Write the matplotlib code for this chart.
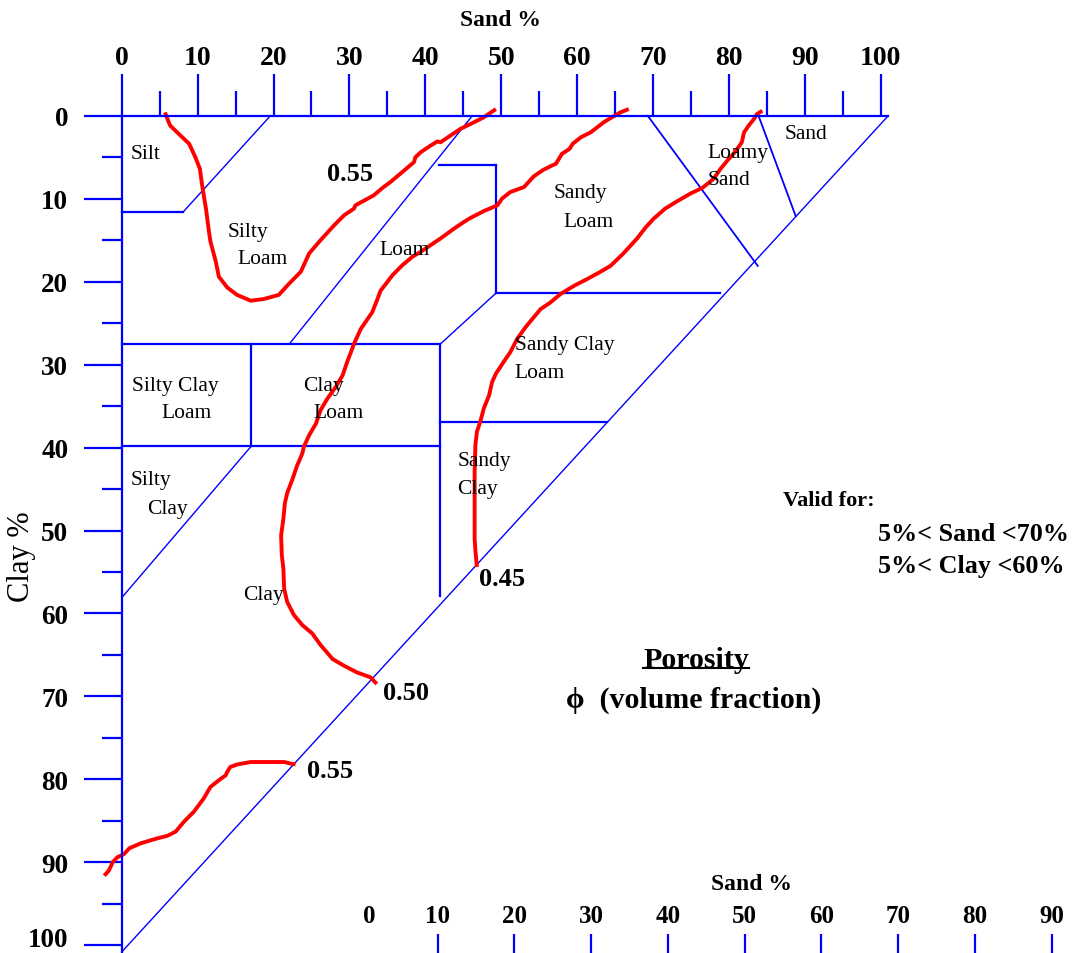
import matplotlib
matplotlib.use("Agg")
from matplotlib import pyplot as plt
from matplotlib.lines import Line2D
from matplotlib.transforms import IdentityTransform, ScaledTranslation

plt.rcParams['font.family'] = ['Liberation Serif', 'DejaVu Serif']

BLUE = '#0000ff'
RED = '#ff0000'

# axis ticks
sand_ticks = [0, 10, 20, 30, 40, 50, 60, 70, 80, 90, 100]
sand_minor = [5, 15, 25, 35, 45, 55, 65, 75, 85, 95]
clay_ticks = [0, 10, 20, 30, 40, 50, 60, 70, 80, 90, 100]
clay_minor = [5, 15, 25, 35, 45, 55, 65, 75, 85, 95]
bottom_ticks = [0, 10, 20, 30, 40, 50, 60, 70, 80, 90]

# porosity isolines (sand %, clay %)
sand_055_top = [5.7, 6.2, 6.4, 7.3, 8.9, 9.7, 10.3, 10.6, 11.1, 11.5,
                11.7, 12.4, 12.8, 13.9, 15.2, 17.0, 18.7, 20.7, 22.0, 23.6,
                24.2, 24.7, 26.2, 28.0, 29.3, 30.6, 30.8, 32.4, 33.2, 34.5,
                35.4, 36.7, 38.5, 38.7, 39.4, 40.7, 41.6, 42.0, 43.3, 44.6,
                46.4, 47.7, 49.3]
clay_055_top = [-0.4, 0.8, 1.2, 2.0, 3.4, 5.0, 6.4, 8.4, 11.2, 14.0,
                15.2, 17.6, 19.4, 20.7, 21.6, 22.3, 22.1, 21.6, 20.3, 18.8,
                17.6, 16.6, 15.0, 13.2, 12.0, 11.2, 10.8, 10.0, 9.6, 8.6,
                8.0, 7.0, 5.6, 5.0, 4.4, 3.6, 3.1, 3.2, 2.4, 1.6,
                0.8, 0.2, -0.8]

sand_050 = [66.8, 65.7, 64.2, 63.5, 61.8, 60.5, 59.4, 59.0, 58.0, 57.2,
            56.7, 55.6, 54.3, 53.0, 51.2, 50.1, 49.5, 47.7, 46.0, 45.1,
            43.8, 42.0, 40.7, 39.4, 38.3, 37.0, 35.7, 34.1, 33.7, 33.0,
            31.5, 31.0, 30.6, 30.2, 29.7, 29.1, 28.2, 27.1, 26.2, 25.6,
            24.7, 24.0, 23.8, 23.1, 22.5, 21.8, 21.5, 21.3, 21.0, 21.1,
            21.3, 21.4, 21.8, 22.7, 23.8, 25.1, 26.2, 27.8, 29.3, 31.0,
            32.8, 33.6]
clay_050 = [-0.8, -0.4, 0.4, 0.8, 2.0, 2.6, 3.4, 4.0, 4.6, 5.8,
            6.0, 6.5, 7.3, 8.6, 9.2, 10.0, 10.8, 11.5, 12.3, 12.8,
            13.6, 14.8, 15.6, 16.4, 17.0, 18.0, 19.2, 21.1, 22.1, 23.7,
            25.7, 26.7, 27.5, 28.5, 29.7, 31.3, 32.7, 34.1, 35.5, 37.1,
            38.5, 39.9, 40.7, 42.2, 43.8, 45.5, 46.7, 48.6, 50.6, 53.0,
            54.6, 57.0, 58.6, 60.2, 61.4, 62.4, 63.8, 65.5, 66.3, 67.1,
            67.7, 68.5]

sand_045 = [84.4, 83.7, 83.3, 82.6, 82.0, 81.7, 81.1, 80.6, 79.8, 78.9,
            78.0, 76.5, 74.9, 73.2, 71.6, 70.1, 69.0, 67.9, 66.1, 64.4,
            63.1, 61.3, 59.6, 57.8, 56.5, 55.2, 54.1, 53.2, 52.1, 51.2,
            50.3, 49.3, 48.8, 48.4, 47.7, 47.3, 46.8, 46.6, 46.5, 46.5,
            46.5, 46.6, 46.8]
clay_045 = [-0.6, -0.2, 0.4, 1.2, 2.0, 3.2, 4.0, 4.6, 5.4, 6.4,
            7.6, 8.7, 9.4, 10.3, 11.2, 12.4, 13.5, 14.8, 16.6, 18.1,
            18.8, 19.7, 20.5, 21.5, 22.5, 23.3, 24.5, 25.5, 26.9, 28.5,
            29.7, 31.1, 32.1, 33.7, 35.3, 36.7, 38.1, 39.7, 42.9, 47.0,
            51.0, 52.4, 54.4]

sand_055_low = [-2.3, -1.7, -1.2, -0.6, 0.3, 1.0, 2.5, 4.7, 6.0, 7.1,
                8.2, 9.5, 10.8, 11.7, 12.8, 13.7, 13.9, 14.3, 15.2, 17.0,
                18.7, 21.4, 22.3, 22.9]
clay_055_low = [91.6, 91.0, 90.0, 89.4, 89.0, 88.3, 87.7, 87.1, 86.8, 86.3,
                85.1, 83.9, 82.3, 80.9, 80.1, 79.5, 79.1, 78.5, 78.2, 77.9,
                77.9, 77.9, 78.1, 78.2]

# texture class boundaries: (sand %, clay %) of the end points
square_edges = [
    ([0, 8.1], [11.6, 11.6]),
    ([0, 42.0], [27.5, 27.5]),
    ([0, 41.9], [39.8, 39.8]),
    ([17.1, 17.1], [27.5, 39.8]),
    ([41.9, 41.9], [27.5, 57.9]),
    ([41.9, 64.0], [36.9, 36.9]),
    ([41.8, 49.3], [6.0, 6.0]),
    ([49.3, 49.3], [6.0, 21.4]),
    ([49.3, 78.8], [21.4, 21.4]),
]
slanted_edges = [
    ([8.1, 19.6], [11.6, 0]),
    ([46.2, 22.1], [0, 27.5]),
    ([42.0, 49.3], [27.5, 21.4]),
    ([17.1, 0], [39.8, 58.1]),
    ([0, 101], [100.8, 0]),
]
sandy_edges = [
    ([69.3, 83.8], [0, 18.1]),
    ([83.9, 88.8], [0, 12.1]),
]

classes = ["Silt", "Silty", "Loam", "Loam", "Sandy", "Loam", "Loamy", "Sand",
           "Sand", "Sandy Clay", "Loam", "Silty Clay", "Loam", "Clay", "Loam",
           "Sandy", "Clay", "Silty", "Clay", "Clay"]
class_sand = [1.2, 14.0, 15.3, 33.9, 56.9, 58.2, 77.2, 77.2,
              87.3, 51.8, 51.8, 1.3, 5.3, 23.9, 25.2,
              44.2, 44.2, 1.2, 3.3, 16.0]
class_clay = [4.5, 13.9, 17.2, 16.1, 9.2, 12.7, 4.4, 7.7,
              2.2, 27.6, 30.9, 32.5, 35.8, 32.5, 35.8,
              41.5, 44.9, 43.9, 47.3, 57.7]

iso_labels = ["0.55", "0.45", "0.50", "0.55"]
iso_sand = [27.1, 47.1, 34.4, 24.4]
iso_clay = [7.0, 55.8, 69.5, 78.9]


def nudge(label, fig, dx_px, dy_px):
    # move a tick label by a few pixels
    label.set_transform(label.get_transform() +
                        ScaledTranslation(dx_px / 100, dy_px / 100, fig.dpi_scale_trans))


def draw_graph():
    fig = plt.figure(figsize=(10.77, 9.54), dpi=100)
    W, H = 1077.0, 954.0
    ax = fig.add_axes([121.7 / W, 1 - 953 / H, (888.3 - 121.7) / W, (953 - 116.7) / H])
    ax.set_xlim(0, 101)
    ax.set_ylim(100.8, 0)
    ax.patch.set_visible(False)

    for side in ['right', 'bottom']:
        ax.spines[side].set_visible(False)
    for side in ['top', 'left']:
        ax.spines[side].set_color(BLUE)
        ax.spines[side].set_linewidth(1.6)

    ax.xaxis.set_ticks_position('top')
    ax.set_xticks(sand_ticks, labels=[str(t) for t in sand_ticks],
                  fontweight='bold', fontsize=20)
    ax.set_xticks(sand_minor, minor=True)
    ax.set_yticks(clay_ticks, labels=[str(t) for t in clay_ticks],
                  fontweight='bold', fontsize=19.5)
    ax.set_yticks(clay_minor, minor=True)
    ax.tick_params(axis='x', which='major', direction='out', length=30,
                   width=1.6, color=BLUE, pad=3)
    ax.tick_params(axis='x', which='minor', direction='out', length=18,
                   width=1.6, color=BLUE)
    ax.tick_params(axis='y', which='major', direction='out', length=27.4,
                   width=1.6, color=BLUE, pad=11)
    ax.tick_params(axis='y', which='minor', direction='out', length=14.2,
                   width=1.6, color=BLUE)
    nudge(ax.yaxis.get_major_ticks()[-1].label1, fig, 0, 9)

    # class boundaries
    for s, c in square_edges:
        ax.plot(s, c, color=BLUE, lw=1.6, clip_on=False)
    for s, c in slanted_edges:
        ax.plot(s, c, color=BLUE, lw=1.0, clip_on=False)
    for s, c in sandy_edges:
        ax.plot(s, c, color=BLUE, lw=1.3, clip_on=False)

    # porosity isolines
    for s, c in [(sand_055_top, clay_055_top), (sand_050, clay_050),
                 (sand_045, clay_045), (sand_055_low, clay_055_low)]:
        ax.plot(s, c, color=RED, lw=2.8, clip_on=False,
                solid_capstyle='butt', solid_joinstyle='round')

    for name, s, c in zip(classes, class_sand, class_clay):
        ax.text(s, c, name, fontsize=15.5, ha='left', va='center')
    for name, s, c in zip(iso_labels, iso_sand, iso_clay):
        ax.text(s, c, name, fontsize=19, fontweight='bold', ha='left', va='center')

    ax.text(87.1, 46.3, "Valid for:", fontsize=16, fontweight='bold',
            ha='left', va='center')
    ax.text(99.6, 50.3, "5%< Sand <70%", fontsize=18.8, fontweight='bold',
            ha='left', va='center')
    ax.text(99.6, 54.2, "5%< Clay <60%", fontsize=18.8, fontweight='bold',
            ha='left', va='center')
    poro = ax.text(75.7, 65.5, "Porosity", fontsize=21.5, fontweight='bold',
                   ha='center', va='center')
    ax.text(75.3, 70.3, "ϕ  (volume fraction)", fontsize=21.5,
            fontweight='bold', ha='center', va='center')

    fig.text(500 / W, 1 - 20 / H, "Sand %", fontsize=17, fontweight='bold',
             ha='center', va='center')
    fig.text(22 / W, 1 - 557 / H, "Clay %", fontsize=22, rotation=90,
             ha='center', va='center')

    # second sand axis along the bottom
    ax2 = fig.add_axes([361 / W, 0, (W - 361) / W, 19 / H])
    ax2.set_xlim(0, (W - 361) / 7.6725)
    ax2.set_ylim(0, 1)
    ax2.patch.set_visible(False)
    for sp in ax2.spines.values():
        sp.set_visible(False)
    ax2.yaxis.set_visible(False)
    ax2.xaxis.set_ticks_position('top')
    ax2.set_xticks(bottom_ticks, labels=[str(t) for t in bottom_ticks],
                   fontweight='bold', fontsize=18)
    ax2.tick_params(axis='x', direction='in', length=13.7, width=1.6,
                    color=BLUE, pad=5)
    first = ax2.xaxis.get_major_ticks()[0]
    first.tick2line.set_visible(False)
    nudge(first.label2, fig, 8, 0)
    fig.text(751 / W, 1 - 885 / H, "Sand %", fontsize=17, fontweight='bold',
             ha='center', va='center')

    # underline "Porosity"
    fig.canvas.draw()
    bb = poro.get_window_extent()
    yu = bb.y0 + 0.18 * bb.height
    fig.add_artist(Line2D([bb.x0, bb.x1], [yu, yu], color='black', lw=1.5,
                          transform=IdentityTransform()))

    fig.savefig("out.png", dpi=100)


if __name__ == "__main__":
    draw_graph()
